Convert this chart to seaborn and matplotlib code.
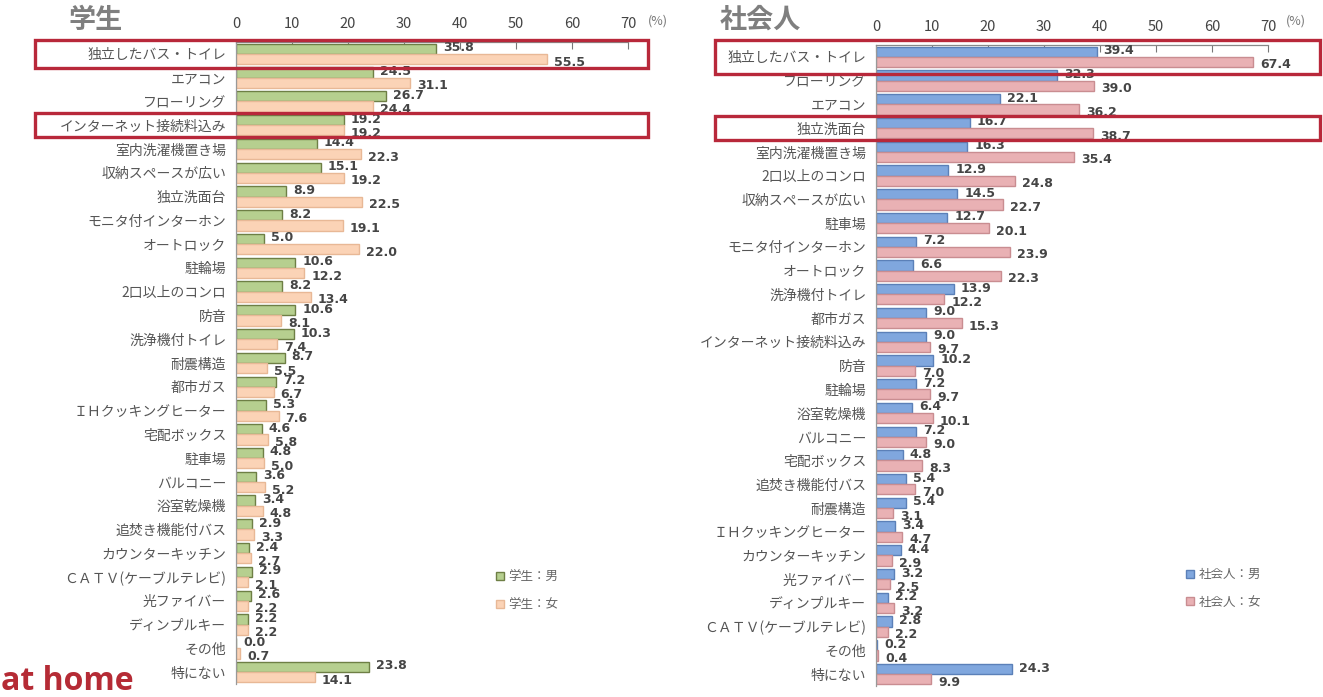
import pandas as pd
import numpy as np
import matplotlib
matplotlib.use("Agg")
import matplotlib.pyplot as plt
import matplotlib.patches as mpatches
import matplotlib.transforms as mtrans
import seaborn as sns

# Data (%)

student_items = ["独立したバス・トイレ", "エアコン", "フローリング", "インターネット接続料込み",
                 "室内洗濯機置き場", "収納スペースが広い", "独立洗面台", "モニタ付インターホン",
                 "オートロック", "駐輪場", "2口以上のコンロ", "防音", "洗浄機付トイレ", "耐震構造",
                 "都市ガス", "ＩＨクッキングヒーター", "宅配ボックス", "駐車場", "バルコニー",
                 "浴室乾燥機", "追焚き機能付バス", "カウンターキッチン", "ＣＡＴＶ(ケーブルテレビ)",
                 "光ファイバー", "ディンプルキー", "その他", "特にない"]
student_male = [35.8, 24.5, 26.7, 19.2, 14.4, 15.1, 8.9, 8.2, 5.0, 10.6, 8.2, 10.6, 10.3, 8.7,
                7.2, 5.3, 4.6, 4.8, 3.6, 3.4, 2.9, 2.4, 2.9, 2.6, 2.2, 0.0, 23.8]
student_female = [55.5, 31.1, 24.4, 19.2, 22.3, 19.2, 22.5, 19.1, 22.0, 12.2, 13.4, 8.1, 7.4, 5.5,
                  6.7, 7.6, 5.8, 5.0, 5.2, 4.8, 3.3, 2.7, 2.1, 2.2, 2.2, 0.7, 14.1]

worker_items = ["独立したバス・トイレ", "フローリング", "エアコン", "独立洗面台", "室内洗濯機置き場",
                "2口以上のコンロ", "収納スペースが広い", "駐車場", "モニタ付インターホン", "オートロック",
                "洗浄機付トイレ", "都市ガス", "インターネット接続料込み", "防音", "駐輪場", "浴室乾燥機",
                "バルコニー", "宅配ボックス", "追焚き機能付バス", "耐震構造", "ＩＨクッキングヒーター",
                "カウンターキッチン", "光ファイバー", "ディンプルキー", "ＣＡＴＶ(ケーブルテレビ)",
                "その他", "特にない"]
worker_male = [39.4, 32.3, 22.1, 16.7, 16.3, 12.9, 14.5, 12.7, 7.2, 6.6, 13.9, 9.0, 9.0, 10.2,
               7.2, 6.4, 7.2, 4.8, 5.4, 5.4, 3.4, 4.4, 3.2, 2.2, 2.8, 0.2, 24.3]
worker_female = [67.4, 39.0, 36.2, 38.7, 35.4, 24.8, 22.7, 20.1, 23.9, 22.3, 12.2, 15.3, 9.7, 7.0,
                 9.7, 10.1, 9.0, 8.3, 7.0, 3.1, 4.7, 2.9, 2.5, 3.2, 2.2, 0.4, 9.9]

student_series = ["学生：男", "学生：女"]
worker_series = ["社会人：男", "社会人：女"]
x_ticks = [0, 10, 20, 30, 40, 50, 60, 70]
highlight_student = [0, 3]
highlight_worker = [0, 3]

sns.set_style("white")
plt.rcParams['font.family'] = ['Noto Sans CJK JP', 'DejaVu Sans']

W, H = 1323, 697
fig = plt.figure(figsize=(W / 100, H / 100), dpi=100)
fig.patch.set_facecolor("white")

RED = "#b8283a"
TXT = "#555555"


def draw_panel(rect, items, male, female, series, fills, edges, title, title_x, pct_x, leg_anchor, boxes):
    ax = fig.add_axes(rect)
    df = pd.DataFrame({
        "item": items * 2,
        "value": male + female,
        "sex": [series[0]] * len(items) + [series[1]] * len(items),
    })
    sns.barplot(data=df, y="item", x="value", hue="sex", order=items, hue_order=series,
                orient="h", palette=fills, width=0.86, ax=ax, legend=False,
                saturation=1, linewidth=1.0)
    for cont, ec in zip(ax.containers, edges):
        for bar in cont:
            bar.set_edgecolor(ec)

    # value labels
    for k, cont in enumerate(ax.containers):
        dy = 1 if k == 0 else -3
        for bar in cont:
            v = bar.get_width()
            ax.annotate(f"{v:.1f}", xy=(v, bar.get_y() + bar.get_height() / 2),
                        xytext=(7, dy), textcoords="offset pixels",
                        ha="left", va="center", fontsize=9, fontweight="bold",
                        color="#454545", family=["DejaVu Sans"])

    ax.set_xlim(0, 70)
    ax.set_ylim(len(items) - 0.5, -0.5)
    ax.set_xticks(x_ticks)
    ax.xaxis.tick_top()
    ax.tick_params(axis="x", direction="in", length=5, width=0.8, color="#777777",
                   labelsize=10.5, labelcolor="#444444", pad=8)
    ax.tick_params(axis="y", length=0, labelsize=10, labelcolor=TXT, pad=7)
    ax.set_xlabel("")
    ax.set_ylabel("")
    for s in ["right", "bottom"]:
        ax.spines[s].set_visible(False)
    ax.spines["top"].set_color("#888888")
    ax.spines["left"].set_color("#999999")
    ax.spines["top"].set_linewidth(0.9)
    ax.spines["left"].set_linewidth(0.9)

    # legend
    handles = [mpatches.Patch(facecolor=fills[i], edgecolor=edges[i], label=series[i]) for i in range(2)]
    leg = ax.legend(handles=handles, loc="center left", bbox_to_anchor=leg_anchor, frameon=False,
                    handlelength=0.6, handleheight=0.6, handletextpad=0.4, labelspacing=1.15,
                    fontsize=9)
    for t in leg.get_texts():
        t.set_color("#666666")

    # title and unit
    fig.text(title_x / W, 1 - 20 / H, title, fontsize=19.5, fontweight="bold", color="#7f7f7f",
             ha="left", va="center")
    fig.text(pct_x / W, 1 - 21 / H, "(%)", fontsize=9, color="#777777", ha="left", va="center")

    # highlight boxes
    trans = mtrans.blended_transform_factory(fig.transFigure, ax.transData)
    for (row, x0, x1, pad) in boxes:
        r = mpatches.Rectangle((x0 / W, row + 0.5 + pad), (x1 - x0) / W, -(1 + 2 * pad),
                               transform=trans, fill=False, edgecolor=RED, linewidth=2.4,
                               clip_on=False, zorder=10)
        fig.add_artist(r)
    return ax


draw_panel([236 / W, 1 - 684 / H, 392 / W, 642 / H], student_items, student_male, student_female,
           student_series, ["#b6cf8f", "#fbd3b6"], ["#6e7f45", "#e8b896"],
           "学生", 68, 648, (0.635, 0.145),
           [(highlight_student[0], 35, 648, 0.1), (highlight_student[1], 35, 648, 0.0)])

draw_panel([876 / W, 1 - 686 / H, 392 / W, 641 / H], worker_items, worker_male, worker_female,
           worker_series, ["#80a7de", "#e9b1b4"], ["#5b80b8", "#c98d91"],
           "社会人", 720, 1286, (0.763, 0.152),
           [(highlight_worker[0], 715, 1320, 0.22), (highlight_worker[1], 715, 1320, 0.02)])

# logo
fig.text(1 / W, 1 - 682 / H, "at home", fontsize=23, fontweight="bold", color="#b52b35",
         ha="left", va="center", family=["Open Sans", "DejaVu Sans"])

fig.savefig("out.png", dpi=100, facecolor="white")
